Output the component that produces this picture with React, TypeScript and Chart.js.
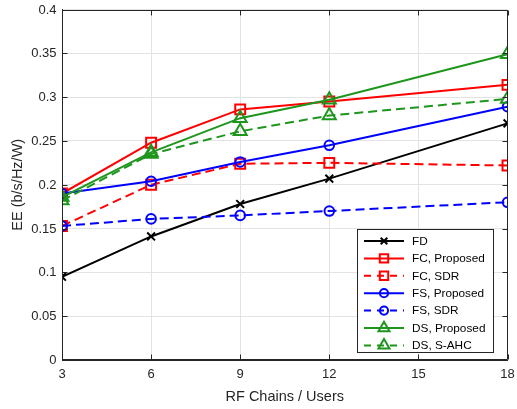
import React, { useEffect, useRef } from 'react';
import { Chart, registerables } from 'chart.js';

Chart.register(...registerables);

const xValues = [3, 6, 9, 12, 18];
const xTickValues = [3, 6, 9, 12, 15, 18];
const yTickValues = [0, 0.05, 0.1, 0.15, 0.2, 0.25, 0.3, 0.35, 0.4];
const xTitle = 'RF Chains / Users';
const yTitle = 'EE (b/s/Hz/W)';

const seriesLabels = [
  'FD',
  'FC, Proposed',
  'FC, SDR',
  'FS, Proposed',
  'FS, SDR',
  'DS, Proposed',
  'DS, S-AHC',
];

const fd = [0.095, 0.141, 0.178, 0.207, 0.27];
const fcProposed = [0.19, 0.248, 0.286, 0.295, 0.314];
const fcSdr = [0.153, 0.2, 0.224, 0.225, 0.222];
const fsProposed = [0.19, 0.204, 0.226, 0.245, 0.289];
const fsSdr = [0.153, 0.161, 0.165, 0.17, 0.18];
const dsProposed = [0.186, 0.237, 0.276, 0.297, 0.349];
const dsSahc = [0.182, 0.235, 0.261, 0.279, 0.298];

const seriesValues = [fd, fcProposed, fcSdr, fsProposed, fsSdr, dsProposed, dsSahc];

const GREEN = 'rgb(30,150,30)';
const seriesColors = ['#000000', '#ff0000', '#ff0000', '#0000ff', '#0000ff', GREEN, GREEN];
const seriesDashed = [false, false, true, false, true, false, true];
const seriesMarkers = ['crossRot', 'rect', 'rect', 'circle', 'circle', 'triangle', 'triangle'];
const markerRadius: Record<string, number> = { crossRot: 5.5, rect: 7, circle: 4.8, triangle: 7.5 };

const AXIS_COLOR = '#262626';
const FONT = '"Liberation Sans", Arial, sans-serif';
const DASH = [9, 5];

function fmt(v: number) {
  return String(Number(v.toFixed(2)));
}

function drawMarker(ctx: CanvasRenderingContext2D, type: string, x: number, y: number, r: number) {
  ctx.beginPath();
  if (type === 'rect') {
    const s = Math.SQRT1_2 * r;
    ctx.rect(x - s, y - s, 2 * s, 2 * s);
  } else if (type === 'circle') {
    ctx.arc(x, y, r, 0, Math.PI * 2);
  } else if (type === 'triangle') {
    for (let i = 0; i < 3; i++) {
      const a = (i * 2 * Math.PI) / 3;
      const px = x + Math.sin(a) * r;
      const py = y - Math.cos(a) * r;
      if (i === 0) ctx.moveTo(px, py);
      else ctx.lineTo(px, py);
    }
    ctx.closePath();
  } else {
    const o = Math.cos(Math.PI / 4) * r;
    ctx.moveTo(x - o, y - o);
    ctx.lineTo(x + o, y + o);
    ctx.moveTo(x + o, y - o);
    ctx.lineTo(x - o, y + o);
  }
  ctx.stroke();
}

const axisText = {
  id: 'axisText',
  afterDraw(chart: any) {
    const ctx: CanvasRenderingContext2D = chart.ctx;
    const { left, right, top, bottom } = chart.chartArea;
    const xs = chart.scales.x;
    const ys = chart.scales.y;
    ctx.save();
    ctx.fillStyle = AXIS_COLOR;
    ctx.font = '13px ' + FONT;
    ctx.textBaseline = 'middle';
    ctx.textAlign = 'right';
    yTickValues.forEach((v) => {
      ctx.fillText(fmt(v), left - 5.5, ys.getPixelForValue(v) + 0.5);
    });
    ctx.textAlign = 'center';
    xTickValues.forEach((v) => {
      ctx.fillText(String(v), xs.getPixelForValue(v), bottom + 14);
    });
    ctx.font = '14.5px ' + FONT;
    ctx.fillText(xTitle, (left + right) / 2, bottom + 37);
    ctx.translate(18, (top + bottom) / 2);
    ctx.rotate(-Math.PI / 2);
    ctx.fillText(yTitle, 0, 0);
    ctx.restore();
  },
};

const frameAndLegend = {
  id: 'frameAndLegend',
  afterDraw(chart: any) {
    const ctx: CanvasRenderingContext2D = chart.ctx;
    const { left, right, top, bottom } = chart.chartArea;
    const xs = chart.scales.x;
    const ys = chart.scales.y;
    ctx.save();
    ctx.strokeStyle = AXIS_COLOR;
    ctx.lineWidth = 1;
    const L = Math.round(left) + 0.5;
    const R = Math.round(right) - 0.5;
    const T = Math.round(top) + 0.5;
    const B = Math.round(bottom) - 0.5;
    ctx.beginPath();
    ctx.rect(L, T, R - L, B - T);
    ctx.stroke();
    const tl = 5;
    ctx.beginPath();
    xTickValues.forEach((v) => {
      const px = Math.round(xs.getPixelForValue(v)) + 0.5;
      ctx.moveTo(px, B);
      ctx.lineTo(px, B - tl);
      ctx.moveTo(px, T);
      ctx.lineTo(px, T + tl);
    });
    yTickValues.forEach((v) => {
      const py = Math.round(ys.getPixelForValue(v)) + 0.5;
      ctx.moveTo(L, py);
      ctx.lineTo(L + tl, py);
      ctx.moveTo(R, py);
      ctx.lineTo(R - tl, py);
    });
    ctx.stroke();

    // legend
    const bx = 357.5;
    const by = 229.5;
    const bw = 136;
    const bh = 123;
    ctx.fillStyle = '#ffffff';
    ctx.fillRect(bx, by, bw, bh);
    ctx.strokeStyle = AXIS_COLOR;
    ctx.lineWidth = 1;
    ctx.strokeRect(bx, by, bw, bh);
    const rowH = 17.4;
    const y0 = by + 11.5;
    ctx.font = '11.8px ' + FONT;
    ctx.textBaseline = 'middle';
    ctx.textAlign = 'left';
    seriesLabels.forEach((label, i) => {
      const y = y0 + i * rowH;
      ctx.strokeStyle = seriesColors[i];
      ctx.lineWidth = 2;
      ctx.setLineDash(seriesDashed[i] ? [7, 6] : []);
      ctx.beginPath();
      ctx.moveTo(364, y);
      ctx.lineTo(404, y);
      ctx.stroke();
      ctx.setLineDash([]);
      ctx.lineWidth = 2;
      const m = seriesMarkers[i];
      drawMarker(ctx, m, 384, y, markerRadius[m] * 0.85);
      ctx.fillStyle = '#000000';
      ctx.fillText(label, 412, y + 0.5);
    });
    ctx.restore();
  },
};

export default function App() {
  const ref = useRef<HTMLCanvasElement | null>(null);
  useEffect(() => {
    document.body.style.margin = '0';
    const canvas = ref.current;
    if (!canvas) return;
    const datasets = seriesLabels.map((label, i) => ({
      label,
      data: xValues.map((x, j) => ({ x, y: seriesValues[i][j] })),
      borderColor: seriesColors[i],
      backgroundColor: 'rgba(0,0,0,0)',
      borderWidth: 2,
      borderDash: seriesDashed[i] ? DASH : [],
      pointStyle: seriesMarkers[i],
      pointRadius: markerRadius[seriesMarkers[i]],
      pointHoverRadius: markerRadius[seriesMarkers[i]],
      pointBorderColor: seriesColors[i],
      pointBackgroundColor: 'rgba(0,0,0,0)',
      pointBorderWidth: 2,
      tension: 0,
      fill: false,
      order: 10 - i,
    }));
    const chart = new Chart(canvas, {
      type: 'line',
      data: { datasets },
      plugins: [frameAndLegend, axisText],
      options: {
        animation: false,
        responsive: false,
        devicePixelRatio: 1,
        layout: { padding: { left: 0, right: 8, top: 8, bottom: 0 } },
        plugins: { legend: { display: false }, tooltip: { enabled: false } },
        scales: {
          x: {
            type: 'linear',
            min: 3,
            max: 18,
            afterFit: (s: any) => {
              s.height = 49;
            },
            afterBuildTicks: (s: any) => {
              s.ticks = xTickValues.map((v) => ({ value: v }));
            },
            ticks: { display: false, autoSkip: false },
            grid: { color: '#e3e3e3', lineWidth: 1, drawTicks: false },
            border: { display: true, color: AXIS_COLOR, width: 1 },
            title: { display: false, text: xTitle },
          },
          y: {
            type: 'linear',
            min: 0,
            max: 0.4,
            afterFit: (s: any) => {
              s.width = 62;
            },
            afterBuildTicks: (s: any) => {
              s.ticks = yTickValues.map((v) => ({ value: v }));
            },
            ticks: { display: false, autoSkip: false },
            grid: { color: '#e3e3e3', lineWidth: 1, drawTicks: false },
            border: { display: true, color: AXIS_COLOR, width: 1 },
            title: { display: false, text: yTitle },
          },
        },
      },
    });
    return () => chart.destroy();
  }, []);
  return (
    <div style={{ width: 517, height: 409 }}>
      <canvas ref={ref} width={517} height={409} style={{ width: 517, height: 409, display: 'block' }} />
    </div>
  );
}
